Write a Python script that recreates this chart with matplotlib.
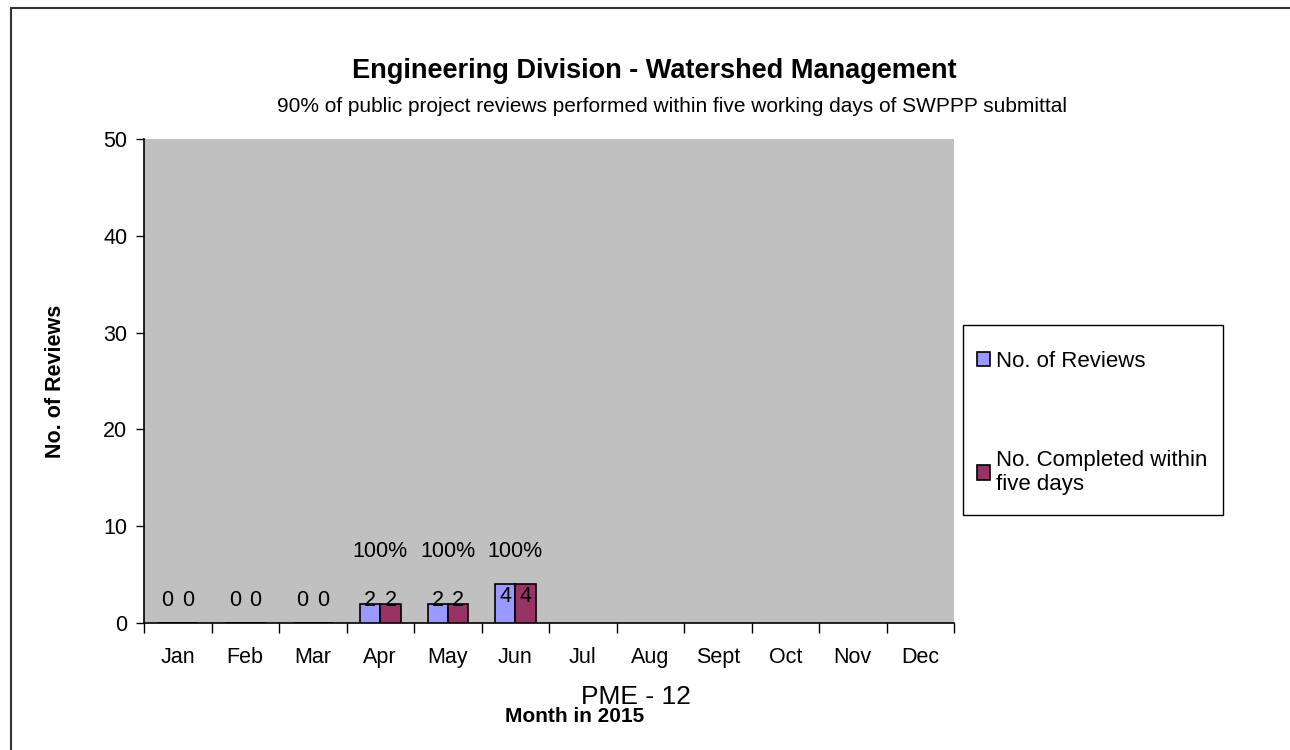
import matplotlib
matplotlib.use("Agg")
import matplotlib.pyplot as plt
import numpy as np
from matplotlib.patches import Rectangle

plt.rcParams['font.family'] = ['Liberation Sans', 'DejaVu Sans']

months = ["Jan", "Feb", "Mar", "Apr", "May", "Jun", "Jul", "Aug", "Sept", "Oct", "Nov", "Dec"]
reviews = [0, 0, 0, 2, 2, 4]
completed = [0, 0, 0, 2, 2, 4]
pct_labels = ["", "", "", "100%", "100%", "100%"]

W, H = 1290, 750
fig = plt.figure(figsize=(12.9, 7.5), dpi=100)
# outer chart frame (left/top edges visible)
fig.patches.append(Rectangle((11 / W, -0.05), 1.1, 1 - 8 / H + 0.05, transform=fig.transFigure,
                             fill=False, edgecolor="#333333", linewidth=1.5, zorder=-2))

ax = fig.add_axes([144 / W, 1 - 623 / H, (954 - 144) / W, (623 - 139) / H])
ax.set_facecolor("#c0c0c0")

x = np.arange(len(reviews))
w = 0.3
ax.bar(x - w / 2, reviews, w, color="#9999ff", edgecolor="black", linewidth=1.2, label="No. of Reviews", zorder=3)
ax.bar(x + w / 2, completed, w, color="#993366", edgecolor="black", linewidth=1.2,
       label="No. Completed within\nfive days", zorder=3)

fs = 15.5
for i in range(len(reviews)):
    for off, v in ((-w / 2, reviews[i]), (w / 2, completed[i])):
        ax.text(x[i] + off, 0.2 * max(v, 2) + 1.9, str(v), ha="center", va="center", fontsize=fs, zorder=4)
    if pct_labels[i]:
        ax.text(x[i], 7.4, pct_labels[i], ha="center", va="center", fontsize=fs, zorder=4)

ax.set_xlim(-0.5, len(months) - 0.5)
ax.set_ylim(0, 50)
ax.set_yticks([0, 10, 20, 30, 40, 50])
ax.set_xticks(np.arange(len(months) + 1) - 0.5)
ax.set_xticklabels([])
ax.set_xticks(np.arange(len(months)), minor=True)
ax.set_xticklabels(months, minor=True, fontsize=fs)
ax.tick_params(axis="x", which="minor", length=0, pad=17)
ax.tick_params(axis="x", which="major", length=7, width=1, direction="out")
ax.tick_params(axis="y", length=6, width=1, labelsize=fs, pad=6)
for s in ("top", "right"):
    ax.spines[s].set_visible(False)
ax.spines["left"].set_linewidth(1.2)
ax.spines["bottom"].set_linewidth(1.2)

ax.set_ylabel("No. of Reviews", fontsize=15.5, fontweight="bold", labelpad=27)

fig.text(654 / W, 1 - 71 / H, "Engineering Division - Watershed Management", ha="center", va="center",
         fontsize=19.5, fontweight="bold")
fig.text(672 / W, 1 - 106 / H, "90% of public project reviews performed within five working days of SWPPP submittal",
         ha="center", va="center", fontsize=15)
fig.text(636 / W, 1 - 697 / H, "PME - 12", ha="center", va="center", fontsize=19)
fig.text(575 / W, 1 - 717 / H, "Month in 2015", ha="center", va="center", fontsize=15, fontweight="bold")

# legend box drawn separately so its padding matches the reference
fig.patches.append(Rectangle((963 / W, 1 - 515 / H), (1223 - 963) / W, (515 - 325) / H, transform=fig.transFigure,
                             facecolor="white", edgecolor="black", linewidth=1.0, zorder=-1))
leg = ax.legend(loc="upper left", bbox_to_anchor=(977 / W, 1 - 351 / H), bbox_transform=fig.transFigure,
                fontsize=16, frameon=False, handlelength=0.6, handleheight=0.6, handletextpad=0.25,
                labelspacing=3.5, borderpad=0, borderaxespad=0)

fig.savefig("out.png", dpi=100, facecolor="white")
